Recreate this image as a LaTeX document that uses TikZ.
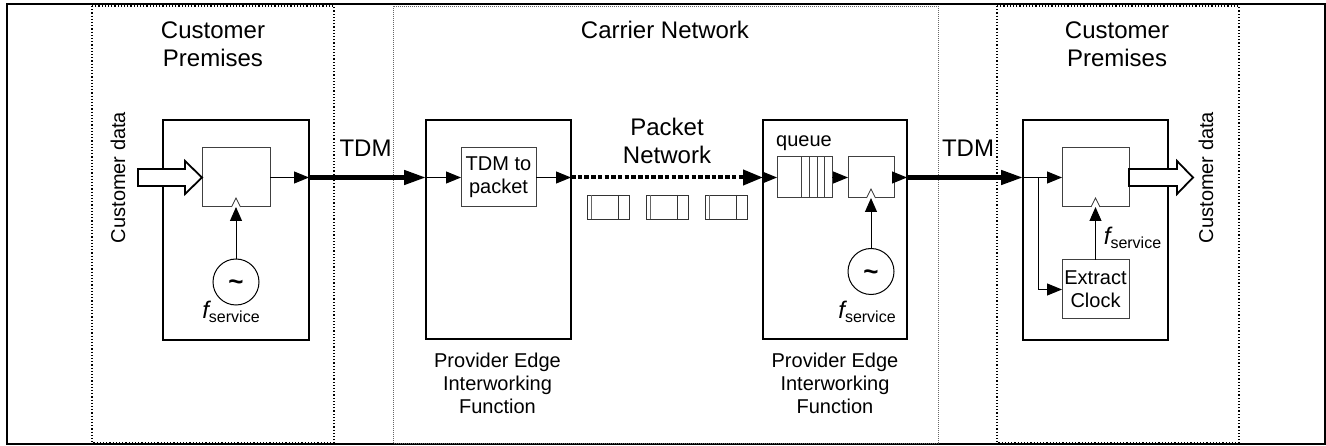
\documentclass[tikz,border=0pt]{standalone}
\usepackage{fontspec}
\setmainfont{Liberation Sans}
\usetikzlibrary{positioning}
\usetikzlibrary{calc}
\usetikzlibrary{arrows.meta}

\newcommand{\fsvc}{{\fontsize{24}{24}\selectfont\itshape f}\raisebox{-3.5pt}{\fontsize{16}{16}\selectfont service}}

\begin{document}
\begin{tikzpicture}[x=1pt, y=-1pt,
	every node/.style={inner sep=0pt, outer sep=0pt},
	bigtxt/.style={font=\fontsize{24}{28}\selectfont, align=center},
	midtxt/.style={font=\fontsize{20}{23}\selectfont, align=center},
	zone/.style={draw, dotted, line width=1.2pt},
	unit/.style={draw, rectangle, line width=1.6pt},
	block/.style={draw=black!75, rectangle, line width=1pt},
	packet/.style={draw=black!80, rectangle, line width=0.9pt, minimum width=42pt, minimum height=24pt},
	osc/.style={draw, circle, line width=1pt, minimum size=46pt},
	tilde/.style={font=\fontsize{26}{26}\selectfont\bfseries, anchor=base},
	thin/.style={line width=1pt, -{Triangle[length=15pt, width=12pt]}},
	trunk/.style={line width=4.5pt, -{Triangle[length=22pt, width=14pt]}},
	pktflow/.style={line width=4pt, dash pattern=on 4.5pt off 2.2pt, -{Triangle[length=20pt, width=15pt]}},
	clk/.style={line width=1pt, -{Triangle[length=14pt, width=12pt]}},
	caret/.style={draw=black!80, line width=0.8pt, fill=white},
	hollow/.style={draw, line width=1.8pt, fill=white, line join=miter}]

\useasboundingbox (0,0) rectangle (1326,446);
\draw[line width=2pt] (7,4) rectangle (1325,444);

% zones
\draw[zone] (92,6) rectangle (334,443);
\draw[draw=black!60, line width=0.8pt, dash pattern=on 0.8pt off 1.2pt] (393,6) rectangle (938,443);
\draw[zone] (997,6) rectangle (1239,443);

\node[bigtxt, anchor=north] (cpleft) at (213,21.5) {Customer\\Premises};
\node[bigtxt, anchor=north] (cpright) at (1117,21.5) {Customer\\Premises};
\node[bigtxt, anchor=base] (carrier) at (665,39) {Carrier Network};
\node[bigtxt, anchor=north] (pktnet) at (667,118) {Packet\\Network};
\node[bigtxt, anchor=base] (tdmleft) at (365.5,157) {TDM};
\node[bigtxt, anchor=base] (tdmright) at (968,157) {TDM};
\node[midtxt, rotate=90, anchor=base] (dataleft) at (125,177.5) {Customer data};
\node[midtxt, rotate=90, anchor=base] (dataright) at (1213,177.5) {Customer data};

% outer units
\node[unit, minimum width=146pt, minimum height=220pt] (src) at (236,230) {};
\node[unit, minimum width=145pt, minimum height=219pt] (pe1) at (498.5,229.5) {};
\node[unit, minimum width=144pt, minimum height=219pt] (pe2) at (835,229.5) {};
\node[unit, minimum width=145pt, minimum height=220pt] (snk) at (1095.5,230) {};

\node[midtxt, anchor=north] (pe1lbl) at (497.5,353) {Provider Edge\\Interworking\\Function};
\node[midtxt, anchor=north] (pe2lbl) at (835,353) {Provider Edge\\Interworking\\Function};

% inner blocks
\node[block, minimum width=68pt, minimum height=59pt] (reg1) at (236,177.5) {};
\node[block, midtxt, minimum width=75pt, minimum height=59pt] (tdm2pkt) at (498.5,177.5) {TDM to\\packet};
\node[block, minimum width=55pt, minimum height=41pt] (queue) at (804.5,177.5) {};
\node[block, minimum width=46pt, minimum height=41pt] (reg2) at (871,177.5) {};
\node[block, minimum width=67pt, minimum height=59pt] (reg3) at (1095.5,177.5) {};
\node[block, midtxt, minimum width=67pt, minimum height=59pt] (extract) at (1095.5,289.5) {Extract\\Clock};
\node[midtxt, anchor=base] (qlbl) at (804,147) {queue};

\foreach \dx in {24,32,40,47}
	\draw[black!75, line width=0.8pt] ($(queue.north west)+(\dx,0)$) -- ($(queue.south west)+(\dx,0)$);

% packets in flight
\foreach \n/\px in {1/587,2/646,3/705} {
	\node[packet] (pkt\n) at (\px+21,207) {};
	\draw[black!60, line width=0.9pt] ($(pkt\n.north west)+(4,0)$) -- ($(pkt\n.south west)+(4,0)$);
	\draw[black!80, line width=0.9pt] ($(pkt\n.north west)+(31,0)$) -- ($(pkt\n.south west)+(31,0)$);
}

% oscillators
\node[osc] (osc1) at (236,282) {};
\node[osc] (osc2) at (871,271.5) {};
\node[tilde] at ($(osc1.center)+(0,9)$) {\textasciitilde};
\node[tilde] at ($(osc2.center)+(0,9)$) {\textasciitilde};
\node[anchor=base] (f1) at (231,319) {\fsvc};
\node[anchor=base] (f2) at (867,319) {\fsvc};
\node[anchor=base] (f3) at (1132.5,245) {\fsvc};

% ports on the unit edges
\coordinate (srcout) at (reg1.east -| src.east);
\coordinate (pe1in) at (tdm2pkt.west -| pe1.west);
\coordinate (pe1out) at (tdm2pkt.east -| pe1.east);
\coordinate (pe2in) at (queue.west -| pe2.west);
\coordinate (pe2out) at (reg2.east -| pe2.east);
\coordinate (snkin) at (reg3.west -| snk.west);
\coordinate (tap) at (1038,177.5);

% data path
\draw[thin] (reg1.east) -- (srcout);
\draw[trunk] (srcout) -- (pe1in);
\draw[thin] (pe1in) -- (tdm2pkt.west);
\draw[thin] (tdm2pkt.east) -- (pe1out);
\draw[pktflow] (pe1out) -- (pe2in);
\draw[thin] (pe2in) -- (queue.west);
\draw[thin] (queue.east) -- (reg2.west);
\draw[thin] (reg2.east) -- (pe2out);
\draw[trunk] (pe2out) -- (snkin);
\draw[thin] (snkin) -- (reg3.west);
\draw[thin] (tap) |- (extract.west);

% clocks
\draw[clk] (osc1.north) -- (reg1.south);
\draw[clk] (osc2.north) -- (reg2.south);
\draw[clk] (extract.north) -- (reg3.south);
\foreach \r in {reg1,reg2,reg3}
	\draw[caret] ($(\r.south)+(-4.5,0)$) -- ++(4.5,-9) -- ++(4.5,9);

% customer data in and out
\draw[hollow] ($(reg1.west)+(-64,-8.5)$) -- ++(47,0) -- ++(0,-8) -- (reg1.west) -- ++(-17,16.5) -- ++(0,-8) -- ++(-47,0) -- cycle;
\draw[hollow] ($(reg3.east)+(0,-8.5)$) -- ++(48,0) -- ++(0,-8) -- ($(reg3.east)+(64,0)$) -- ++(-16,16.5) -- ++(0,-8) -- ++(-48,0) -- cycle;

\end{tikzpicture}
\end{document}
